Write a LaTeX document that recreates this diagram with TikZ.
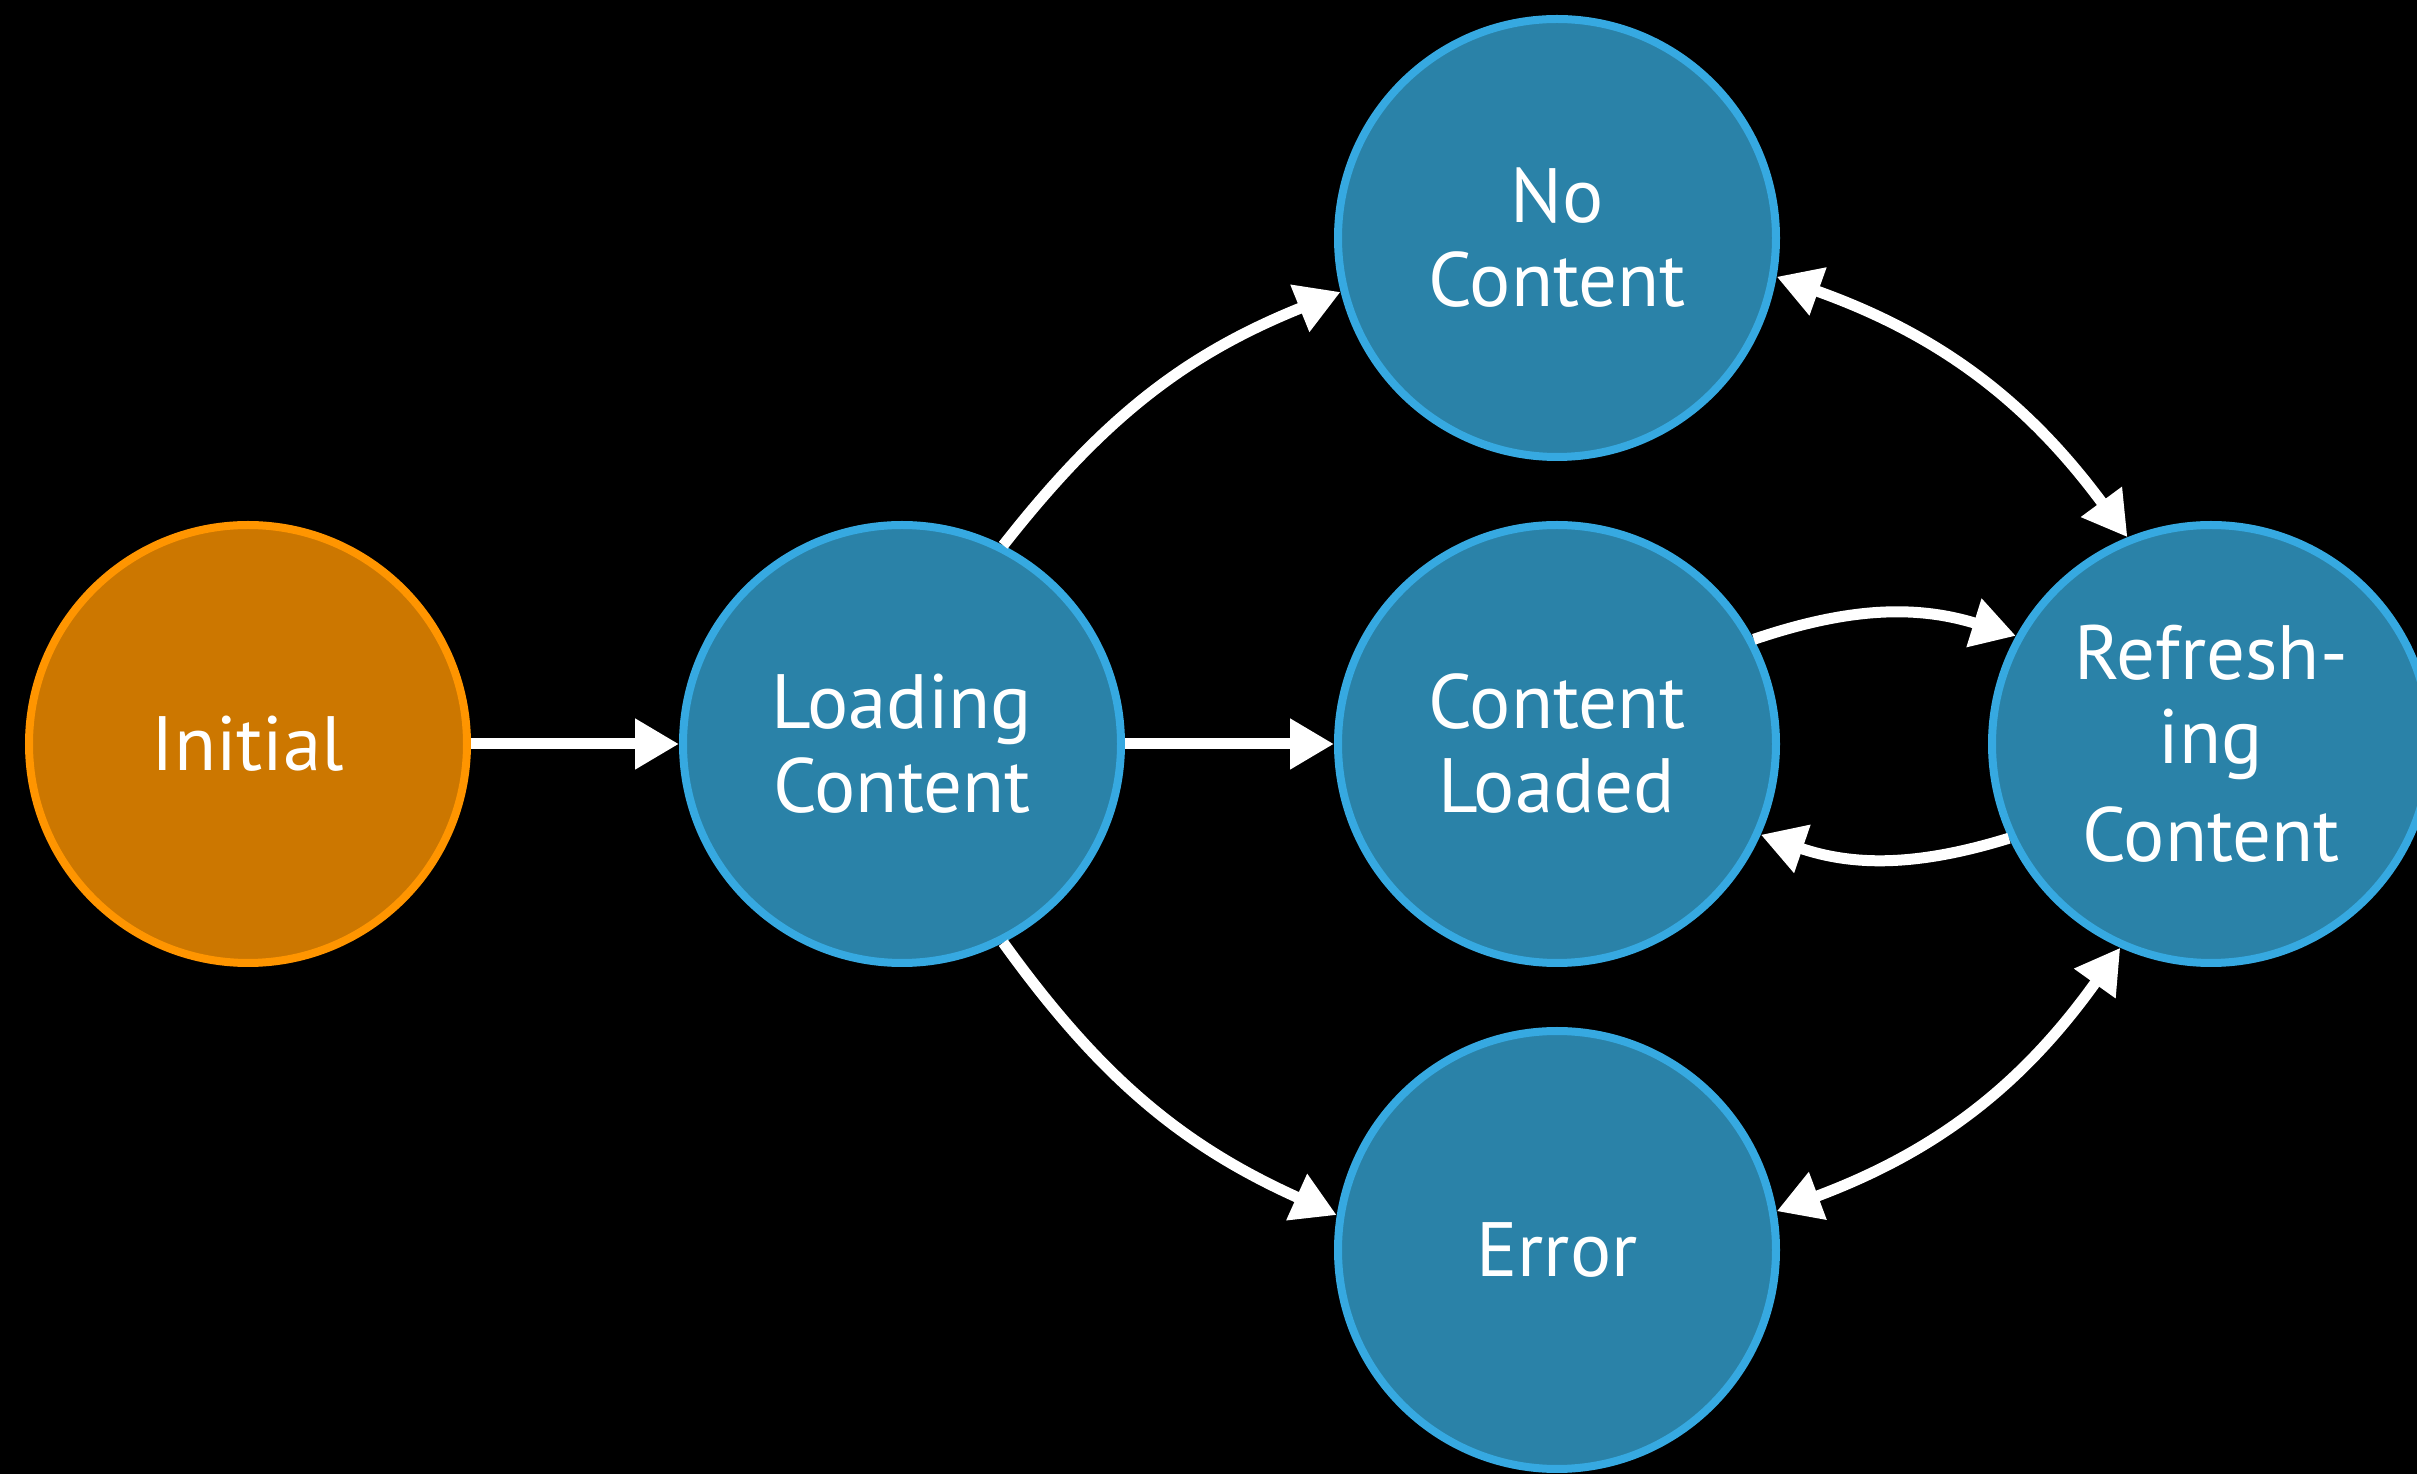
\documentclass[tikz,border=0pt]{standalone}
\usepackage{fontspec}
\setmainfont{PT Sans}
\usetikzlibrary{arrows.meta}
\definecolor{orfill}{HTML}{CC7700}
\definecolor{ordraw}{HTML}{FF9500}
\definecolor{blfill}{HTML}{2A82A8}
\definecolor{bldraw}{HTML}{36A9E1}
\begin{document}
\begin{tikzpicture}[x=0.5pt,y=0.5pt,
  state/.style={circle, draw=bldraw, fill=blfill, line width=4pt, minimum size=219pt,
    inner sep=0pt, text=white, align=center, font=\fontsize{38.5pt}{42pt}\selectfont},
  initstate/.style={state, draw=ordraw, fill=orfill},
  tip/.tip={Triangle[length=22pt,width=24pt]},
  conn/.style={white, line width=5.5pt, -tip},
  biconn/.style={white, line width=5.5pt, tip-tip}]
\fill[black] (0,0) rectangle (2417,1474);
\useasboundingbox (0,0) rectangle (2417,1474);
\node[initstate] (init) at (248,730) {Initial};
\node[state] (load) at (902,730) {Loading\\Content};
\node[state] (nocont) at (1557,1236) {No\\Content};
\node[state] (loaded) at (1557,730) {Content\\Loaded};
\node[state] (error) at (1557,224) {Error};
\node[state] (refresh) at (2211,730) {Refresh-\\ing\\[7pt]Content};
\draw[conn] (init) -- (load);
\draw[conn] (load) -- (loaded);
\draw[conn] (load.63) to[bend left=15] (nocont.194);
\draw[conn] (load.-63) to[bend right=15] (error.171);
\draw[biconn] (nocont.-10) to[bend left=17] (refresh.112);
\draw[biconn] (error.10) to[bend right=17] (refresh.-114);
\draw[conn] (loaded.28) to[bend left=18] (refresh.151);
\draw[conn] (refresh.205) to[bend left=18] (loaded.-24);
\end{tikzpicture}
\end{document}
